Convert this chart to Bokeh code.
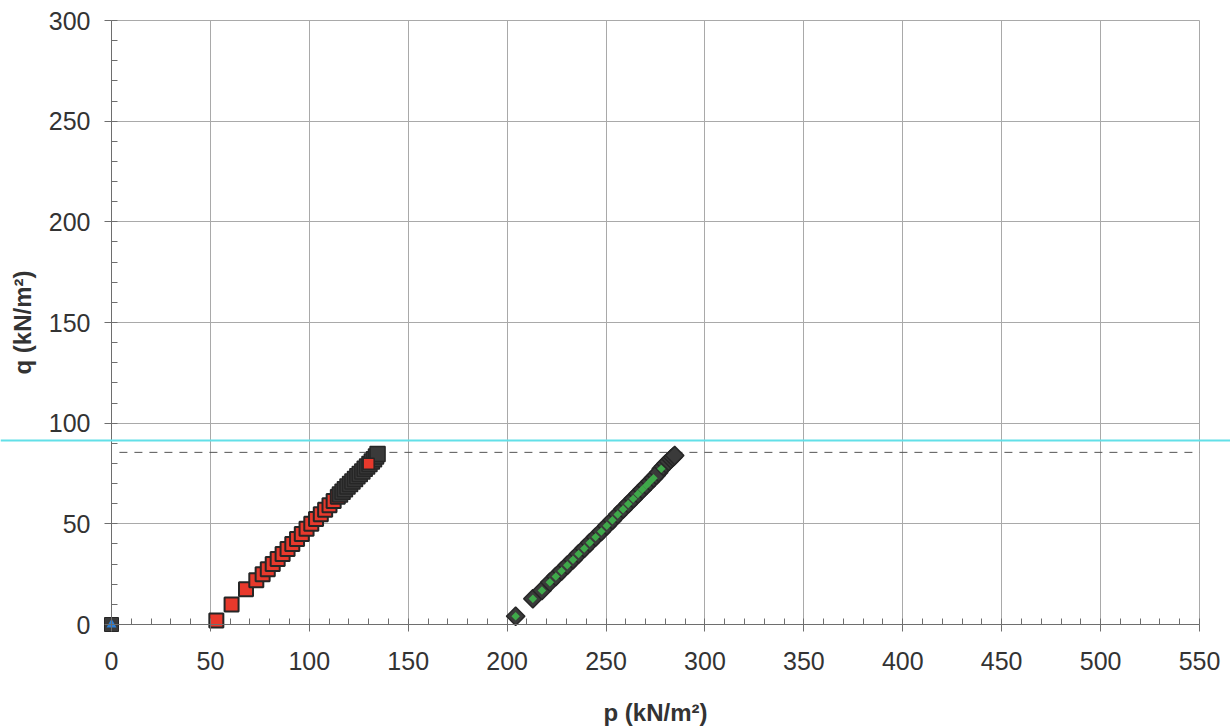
import math
from bokeh.plotting import figure
from bokeh.models import (Range1d, SingleIntervalTicker, Span)
from bokeh.embed import file_html
from bokeh.resources import INLINE

# ---- data ----
x_ticks = [0, 50, 100, 150, 200, 250, 300, 350, 400, 450, 500, 550]
y_ticks = [0, 50, 100, 150, 200, 250, 300]

blue_p = [0.0]
blue_q = [0.0]

red_p = [53.0, 60.7, 68.0, 73.2, 76.4, 79.0, 81.5, 84.0, 86.5, 89.0, 91.4, 93.8,
         96.2, 98.6, 101.0, 103.4, 105.8, 108.0, 110.2, 112.3, 114.4]
red_q = [2.0, 9.9, 17.5, 22.0, 25.0, 27.5, 30.0, 32.5, 35.0, 37.5, 40.0, 42.5,
         45.0, 47.5, 50.0, 52.4, 54.8, 57.0, 59.2, 61.3, 63.4]

red_dark_p = [115.5, 116.8, 118.0, 119.3, 120.6, 121.8, 123.1, 124.3, 125.5, 126.8,
              128.0, 129.2, 130.4, 131.6, 132.7, 133.7, 134.5]
red_dark_q = [64.6, 65.9, 67.2, 68.5, 69.8, 71.0, 72.3, 73.6, 74.8, 76.0,
              77.3, 78.5, 79.7, 80.9, 82.1, 83.5, 84.7]

red_last_p = [130.0]
red_last_q = [79.8]

green_p = [204.3, 213.0, 217.6, 221.6, 224.6, 227.5, 230.4, 233.3, 236.1, 239.0,
           241.8, 244.7, 247.6, 250.4, 253.2, 255.9, 258.6, 261.2, 263.7, 266.1,
           268.3, 270.4, 272.3, 274.0, 277.9]
green_q = [4.1, 12.8, 16.9, 21.0, 23.8, 26.6, 29.4, 32.2, 35.0, 37.8,
           40.6, 43.4, 46.2, 49.0, 51.8, 54.6, 57.3, 59.9, 62.4, 64.8,
           67.0, 69.1, 71.0, 72.7, 77.3]

green_dark_p = [275.4, 276.6, 279.0, 280.3, 281.6, 282.8, 283.8, 284.7]
green_dark_q = [74.1, 75.5, 78.5, 79.8, 81.0, 82.2, 83.1, 83.9]

dashed_q = 85.5
cyan_q = 91.4

X_MIN, X_MAX = 0, 550
Y_MIN, Y_MAX = 0, 300

FONT = "Liberation Sans"
GRID = "#a9a9a9"
AXIS = "#6e6e6e"
TEXT = "#333333"
DARK = "#3a3a3a"
EDGE = "#262626"

W, H = 1230, 728
# plot area in canvas pixels
L, R, T, B = 111, 1199, 20, 624
ux = (X_MAX - X_MIN) / (R - L)
uy = (Y_MAX - Y_MIN) / (B - T)
x_rng = Range1d(X_MIN - L * ux, X_MAX + (W - R) * ux)
y_rng = Range1d(Y_MIN - (H - B) * uy, Y_MAX + T * uy)

p = figure(width=W, height=H, output_backend="svg", toolbar_location=None,
           x_range=x_rng, y_range=y_rng,
           min_border_left=0, min_border_right=0, min_border_top=0, min_border_bottom=0)

p.background_fill_color = "white"
p.border_fill_color = "white"
p.outline_line_color = None

for ax in (p.xaxis[0], p.yaxis[0]):
    ax.ticker = SingleIntervalTicker(interval=50, num_minor_ticks=5)
    ax.fixed_location = 0
    ax.axis_line_color = AXIS
    ax.major_tick_line_color = AXIS
    ax.minor_tick_line_color = AXIS
    ax.major_tick_out = 7
    ax.major_tick_in = 0
    ax.minor_tick_in = 6
    ax.minor_tick_out = 0
    ax.major_label_text_font = FONT
    ax.major_label_text_font_size = "25px"
    ax.major_label_text_color = TEXT
    ax.axis_label_text_font = FONT
    ax.axis_label_text_font_style = "bold"
    ax.axis_label_text_font_size = "24px"
    ax.axis_label_text_color = TEXT

p.xaxis.bounds = (X_MIN, X_MAX)
p.yaxis.bounds = (Y_MIN, Y_MAX)
p.xaxis.axis_label = "p (kN/m²)"
p.yaxis.axis_label = "q (kN/m²)"
p.xaxis.major_label_standoff = 20
p.yaxis.major_label_standoff = 14
p.xaxis.axis_label_standoff = 26
p.yaxis.axis_label_standoff = 10

p.xgrid.ticker = SingleIntervalTicker(interval=50)
p.ygrid.ticker = SingleIntervalTicker(interval=50)
p.xgrid.bounds = (X_MIN, X_MAX)
p.ygrid.bounds = (Y_MIN, Y_MAX)
grid_ok = True
try:
    p.xgrid.cross_bounds = (Y_MIN, Y_MAX)
    p.ygrid.cross_bounds = (X_MIN, X_MAX)
except Exception:
    grid_ok = False
if grid_ok:
    p.xgrid.grid_line_color = GRID
    p.ygrid.grid_line_color = GRID
else:
    p.xgrid.grid_line_color = None
    p.ygrid.grid_line_color = None
    p.segment(x_ticks, [Y_MIN] * len(x_ticks), x_ticks, [Y_MAX] * len(x_ticks),
              line_color=GRID, line_width=1)
    p.segment([X_MIN] * len(y_ticks), y_ticks, [X_MAX] * len(y_ticks), y_ticks,
              line_color=GRID, line_width=1)

# reference lines
p.segment([X_MIN + 4], [dashed_q], [X_MAX], [dashed_q], line_color="#555555",
          line_width=1, line_dash="8 7")
p.add_layout(Span(location=cyan_q, dimension="width", line_color="#62e0e8", line_width=2))

# blue series
p.scatter(blue_p, blue_q, marker="square", size=14, fill_color=DARK, line_color=EDGE, line_width=1)
p.scatter(blue_p, blue_q, marker="triangle", size=10, fill_color="#2b7fd6", line_color=None)

# red series
p.scatter(red_p, red_q, marker="square", size=14, fill_color="#e8392c",
          line_color=EDGE, line_width=2)
p.scatter(red_dark_p, red_dark_q, marker="square", size=15, fill_color=DARK,
          line_color=EDGE, line_width=1.5)
p.scatter(red_last_p, red_last_q, marker="square", size=11, fill_color="#e8392c",
          line_color=EDGE, line_width=1.5)

# green series
quarter = math.pi / 4
p.scatter(green_p + green_dark_p, green_q + green_dark_q, marker="square", size=13,
          angle=quarter, fill_color=DARK, line_color=EDGE, line_width=1.5)
p.scatter(green_p, green_q, marker="square", size=6, angle=quarter,
          fill_color="#3fa84a", line_color=None)

open("out.html", "w").write(file_html(p, INLINE))
